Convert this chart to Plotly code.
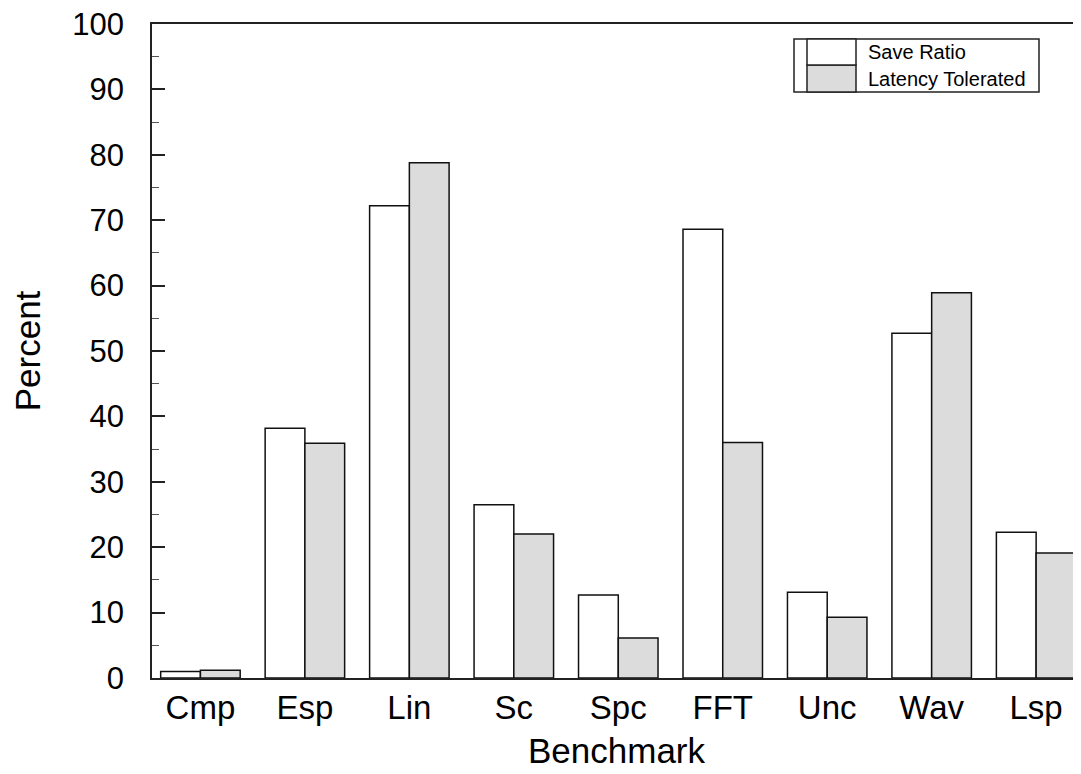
import plotly.graph_objects as go

categories = ["Cmp", "Esp", "Lin", "Sc", "Spc", "FFT", "Unc", "Wav", "Lsp"]
save_ratio = [1.0, 38.2, 72.2, 26.5, 12.7, 68.6, 13.1, 52.7, 22.3]
latency_tolerated = [1.2, 35.9, 78.8, 22.0, 6.1, 36.0, 9.3, 58.9, 19.1]
y_ticks = list(range(0, 101, 10))

FONT = "Liberation Sans, Arial, sans-serif"
OFF = 8  # page body margin
W, H = 1081 - OFF, 774 - OFF
ML, MR, MT, MB = 152 - OFF, 0, 24 - OFF, 96

fig = go.Figure()
fig.add_trace(go.Bar(x=categories, y=save_ratio, name="Save Ratio",
                     marker=dict(color="white", line=dict(color="#111", width=1.5)),
                     showlegend=False))
fig.add_trace(go.Bar(x=categories, y=latency_tolerated, name="Latency Tolerated",
                     marker=dict(color="#dcdcdc", line=dict(color="#111", width=1.5)),
                     showlegend=False))

fig.update_layout(
    width=W, height=H,
    margin=dict(l=ML, r=MR, t=MT, b=MB, pad=0, autoexpand=False),
    paper_bgcolor="white", plot_bgcolor="white",
    barmode="group", bargap=0.239, bargroupgap=0,
    font=dict(family=FONT, color="black"),
)
fig.update_xaxes(
    range=[-0.4636, 8.4295], showgrid=False, ticks="", automargin=False,
    showline=True, linecolor="#222", linewidth=1.5, mirror=True,
    tickfont=dict(size=33, family=FONT), ticklabeloverflow="allow",
    title=dict(text="Benchmark", font=dict(size=35, family=FONT), standoff=13),
)
fig.update_yaxes(
    range=[0, 100], tickvals=y_ticks, showgrid=False, zeroline=False,
    automargin=False,
    ticks="inside", ticklen=13, tickwidth=1.5, tickcolor="#222",
    minor=dict(dtick=5, ticks="inside", ticklen=7, tickwidth=1.2, tickcolor="#555"),
    showline=True, linecolor="#222", linewidth=1.5, mirror=False,
    tickfont=dict(size=31, family=FONT), ticklabelstandoff=20,
    ticklabeloverflow="allow",
    title=dict(text="Percent", font=dict(size=35, family=FONT), standoff=48),
)

# Custom legend (reference pixel layout converted to paper fractions)
def px(x):
    return (x - OFF - ML) / (W - ML - MR)

def py(y):
    return 1 - (y - OFF - MT) / (H - MT - MB)

shapes = []
lc = dict(color="#222", width=1.5)
shapes.append(dict(type="rect", xref="paper", yref="paper", x0=px(794), x1=px(1039),
                   y0=py(92), y1=py(39), line=lc, fillcolor="white", layer="above"))
shapes.append(dict(type="rect", xref="paper", yref="paper", x0=px(807), x1=px(856),
                   y0=py(92), y1=py(65), line=lc, fillcolor="#dcdcdc", layer="above"))
shapes.append(dict(type="rect", xref="paper", yref="paper", x0=px(807), x1=px(856),
                   y0=py(65), y1=py(39), line=lc, fillcolor="white", layer="above"))
fig.update_layout(shapes=shapes)
for name, yc in [("Save Ratio", 52), ("Latency Tolerated", 79)]:
    fig.add_annotation(xref="paper", yref="paper", x=px(866), y=py(yc), text=name,
                       showarrow=False, xanchor="left", yanchor="middle",
                       font=dict(size=20, family=FONT, color="black"))

fig.write_html("out.html")
